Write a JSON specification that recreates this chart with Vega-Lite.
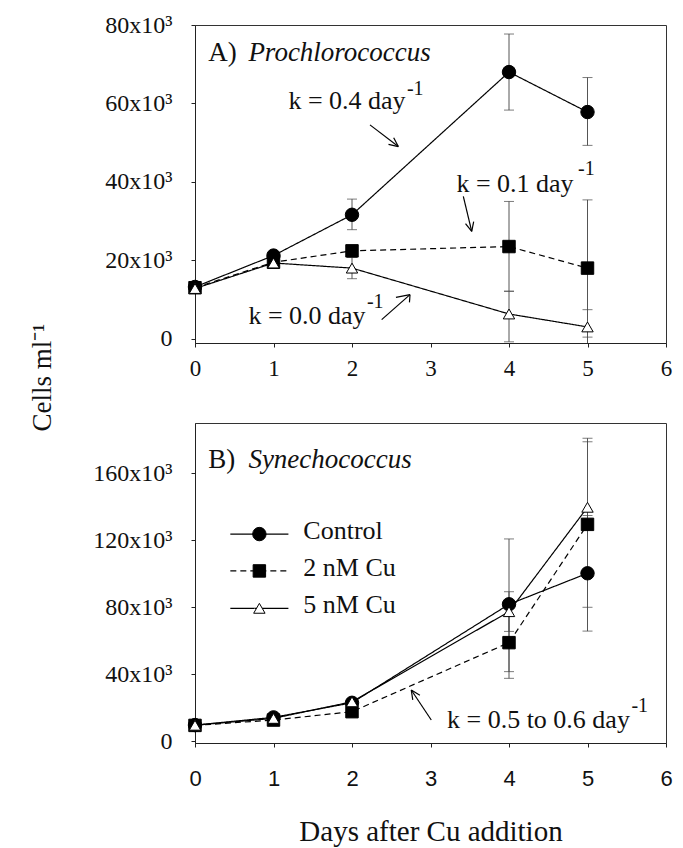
{
  "$schema": "https://vega.github.io/schema/vega-lite/v6.json",
  "autosize": {"type": "pad"},
  "padding": {"left": 27, "top": 12, "right": 11, "bottom": 0},
  "background": "white",
  "bounds": "flush",
  "spacing": 80,
  "config": {
    "view": {"stroke": "#333", "strokeWidth": 1},
    "axis": {"grid": false, "domainColor": "#222", "tickColor": "#222", "labelColor": "#111", "titleColor": "#111", "labelFont": "Liberation Serif", "labelFontSize": 22, "titleFont": "Liberation Serif", "titleFontWeight": "normal", "titleFontSize": 27, "tickSize": 4, "labelFlush": false, "labelOverlap": false},
    "text": {"font": "Liberation Serif", "color": "#111"}
  },
  "datasets": {
    "pts": [
      {"panel": "A", "series": "Control", "day": 0, "cells": 13200},
      {"panel": "A", "series": "Control", "day": 1, "cells": 21200},
      {"panel": "A", "series": "Control", "day": 2, "cells": 31600},
      {"panel": "A", "series": "Control", "day": 4, "cells": 68000},
      {"panel": "A", "series": "Control", "day": 5, "cells": 57800},
      {"panel": "A", "series": "2 nM Cu", "day": 0, "cells": 13000},
      {"panel": "A", "series": "2 nM Cu", "day": 1, "cells": 19500},
      {"panel": "A", "series": "2 nM Cu", "day": 2, "cells": 22400},
      {"panel": "A", "series": "2 nM Cu", "day": 4, "cells": 23500},
      {"panel": "A", "series": "2 nM Cu", "day": 5, "cells": 18000},
      {"panel": "A", "series": "5 nM Cu", "day": 0, "cells": 12800},
      {"panel": "A", "series": "5 nM Cu", "day": 1, "cells": 19300},
      {"panel": "A", "series": "5 nM Cu", "day": 2, "cells": 18000},
      {"panel": "A", "series": "5 nM Cu", "day": 4, "cells": 6300},
      {"panel": "A", "series": "5 nM Cu", "day": 5, "cells": 3000},
      {"panel": "B", "series": "Control", "day": 0, "cells": 9700},
      {"panel": "B", "series": "Control", "day": 1, "cells": 14300},
      {"panel": "B", "series": "Control", "day": 2, "cells": 23000},
      {"panel": "B", "series": "Control", "day": 4, "cells": 81800},
      {"panel": "B", "series": "Control", "day": 5, "cells": 100300},
      {"panel": "B", "series": "2 nM Cu", "day": 0, "cells": 9500},
      {"panel": "B", "series": "2 nM Cu", "day": 1, "cells": 12700},
      {"panel": "B", "series": "2 nM Cu", "day": 2, "cells": 17700},
      {"panel": "B", "series": "2 nM Cu", "day": 4, "cells": 58900},
      {"panel": "B", "series": "2 nM Cu", "day": 5, "cells": 129500},
      {"panel": "B", "series": "5 nM Cu", "day": 0, "cells": 9600},
      {"panel": "B", "series": "5 nM Cu", "day": 1, "cells": 13700},
      {"panel": "B", "series": "5 nM Cu", "day": 2, "cells": 23600},
      {"panel": "B", "series": "5 nM Cu", "day": 4, "cells": 77400},
      {"panel": "B", "series": "5 nM Cu", "day": 5, "cells": 139700}
    ],
    "errs": [
      {"panel": "A", "series": "Control", "day": 2, "lo": 27800, "hi": 35600},
      {"panel": "A", "series": "Control", "day": 4, "lo": 58300, "hi": 77700},
      {"panel": "A", "series": "Control", "day": 5, "lo": 49300, "hi": 66600},
      {"panel": "A", "series": "2 nM Cu", "day": 4, "lo": 12100, "hi": 35000},
      {"panel": "A", "series": "2 nM Cu", "day": 5, "lo": 400, "hi": 35400},
      {"panel": "A", "series": "5 nM Cu", "day": 2, "lo": 15300, "hi": 20700},
      {"panel": "A", "series": "5 nM Cu", "day": 4, "lo": -800, "hi": 12100},
      {"panel": "A", "series": "5 nM Cu", "day": 5, "lo": -1500, "hi": 7400},
      {"panel": "B", "series": "Control", "day": 4, "lo": 41600, "hi": 120800},
      {"panel": "B", "series": "Control", "day": 5, "lo": 65800, "hi": 134800},
      {"panel": "B", "series": "2 nM Cu", "day": 4, "lo": 37600, "hi": 80100},
      {"panel": "B", "series": "2 nM Cu", "day": 5, "lo": 80000, "hi": 178800},
      {"panel": "B", "series": "5 nM Cu", "day": 4, "lo": 65600, "hi": 89300},
      {"panel": "B", "series": "5 nM Cu", "day": 5, "lo": 98500, "hi": 180900}
    ],
    "notes": [
      {"panel": "A", "day": 1.19, "cells": 58500, "text": "k = 0.4 day"},
      {"panel": "A", "day": 3.33, "cells": 37500, "text": "k = 0.1 day"},
      {"panel": "A", "day": 0.68, "cells": 3850, "text": "k = 0.0 day"},
      {"panel": "B", "day": 3.21, "cells": 7800, "text": "k = 0.5 to 0.6 day"}
    ],
    "sups": [
      {"panel": "A", "day": 2.70, "cells": 62200, "text": "-1"},
      {"panel": "A", "day": 4.88, "cells": 41800, "text": "-1"},
      {"panel": "A", "day": 2.19, "cells": 7850, "text": "-1"},
      {"panel": "B", "day": 5.56, "cells": 17700, "text": "-1"}
    ],
    "tags": [
      {"panel": "A", "day": 0.17, "cells": 70800, "text": "A)"},
      {"panel": "B", "day": 0.17, "cells": 163000, "text": "B)"}
    ],
    "taxa": [
      {"panel": "A", "day": 0.68, "cells": 70800, "text": "Prochlorococcus"},
      {"panel": "B", "day": 0.68, "cells": 163000, "text": "Synechococcus"}
    ],
    "arrows": [
      {"panel": "A", "day": 2.229, "cells": 54530, "day2": 2.590, "cells2": 49002},
      {"panel": "A", "day": 2.531, "cells": 51270, "day2": 2.590, "cells2": 49002},
      {"panel": "A", "day": 2.465, "cells": 49563, "day2": 2.590, "cells2": 49002},
      {"panel": "A", "day": 3.418, "cells": 36268, "day2": 3.525, "cells2": 27354},
      {"panel": "A", "day": 3.550, "cells": 29848, "day2": 3.525, "cells2": 27354},
      {"panel": "A", "day": 3.446, "cells": 29339, "day2": 3.525, "cells2": 27354},
      {"panel": "A", "day": 2.378, "cells": 4864, "day2": 2.739, "cells2": 11231},
      {"panel": "A", "day": 2.560, "cells": 10516, "day2": 2.739, "cells2": 11231},
      {"panel": "A", "day": 2.732, "cells": 9256, "day2": 2.739, "cells2": 11231},
      {"panel": "B", "day": 3.010, "cells": 12721, "day2": 2.755, "cells2": 30628},
      {"panel": "B", "day": 2.774, "cells": 24719, "day2": 2.755, "cells2": 30628},
      {"panel": "B", "day": 2.865, "cells": 27524, "day2": 2.755, "cells2": 30628}
    ],
    "key": [
      {"series": "Control", "day": 0.45, "day2": 1.19, "cells": 123700, "markDay": 0.82, "labelDay": 1.38, "labelCells": 120600, "label": "Control"},
      {"series": "2 nM Cu", "day": 0.45, "day2": 1.19, "cells": 101700, "markDay": 0.82, "labelDay": 1.38, "labelCells": 98700, "label": "2 nM Cu"},
      {"series": "5 nM Cu", "day": 0.45, "day2": 1.19, "cells": 79400, "markDay": 0.82, "labelDay": 1.38, "labelCells": 76400, "label": "5 nM Cu"}
    ]
  },
  "vconcat": [
    {
      "width": 471,
      "height": 318,
      "layer": [
        {
          "data": {"name": "pts"},
          "transform": [{"filter": "datum.panel == 'A'"}],
          "mark": {"type": "line", "color": "#000", "strokeWidth": 1.2},
          "encoding": {
            "x": {"field": "day", "type": "quantitative", "scale": {"domain": [0, 6], "nice": false, "zero": false},
                  "axis": {"values": [0, 1, 2, 3, 4, 5, 6], "format": "d", "title": null, "labelFont": "Liberation Serif", "labelFontSize": 23, "labelPadding": 10}},
            "y": {"field": "cells", "type": "quantitative", "scale": {"domain": [-1100, 80000], "nice": false, "zero": false},
                  "axis": {"values": [0, 20000, 40000, 60000, 80000], "title": null, "labelFontSize": 24, "labelPadding": 19, "labelExpr": "datum.value == 0 ? '0' : format(datum.value / 1000, 'd') + 'x10\u00b3'"}},
            "detail": {"field": "series", "type": "nominal"},
            "strokeDash": {"field": "series", "type": "nominal", "scale": {"domain": ["Control", "2 nM Cu", "5 nM Cu"], "range": [[1, 0], [6, 4], [1, 0]]}, "legend": null}
          }
        },
        {
          "data": {"name": "errs"},
          "transform": [{"filter": "datum.panel == 'A'"}],
          "mark": {"type": "rule", "color": "#555", "strokeWidth": 1, "clip": true},
          "encoding": {
            "x": {"field": "day", "type": "quantitative", "scale": {"domain": [0, 6], "nice": false, "zero": false}},
            "y": {"field": "lo", "type": "quantitative", "scale": {"domain": [-1100, 80000], "nice": false, "zero": false}},
            "y2": {"field": "hi"}
          }
        },
        {
          "data": {"name": "errs"},
          "transform": [{"filter": "datum.panel == 'A'"}],
          "mark": {"type": "tick", "orient": "horizontal", "size": 10, "thickness": 1, "color": "#444", "clip": true},
          "encoding": {
            "x": {"field": "day", "type": "quantitative", "scale": {"domain": [0, 6], "nice": false, "zero": false}},
            "y": {"field": "lo", "type": "quantitative", "scale": {"domain": [-1100, 80000], "nice": false, "zero": false}}
          }
        },
        {
          "data": {"name": "errs"},
          "transform": [{"filter": "datum.panel == 'A'"}],
          "mark": {"type": "tick", "orient": "horizontal", "size": 10, "thickness": 1, "color": "#444", "clip": true},
          "encoding": {
            "x": {"field": "day", "type": "quantitative", "scale": {"domain": [0, 6], "nice": false, "zero": false}},
            "y": {"field": "hi", "type": "quantitative", "scale": {"domain": [-1100, 80000], "nice": false, "zero": false}}
          }
        },
        {
          "data": {"name": "pts"},
          "transform": [{"filter": "datum.panel == 'A'"}],
          "mark": {"type": "point", "filled": true, "opacity": 1, "strokeWidth": 1},
          "encoding": {
            "x": {"field": "day", "type": "quantitative", "scale": {"domain": [0, 6], "nice": false, "zero": false}},
            "y": {"field": "cells", "type": "quantitative", "scale": {"domain": [-1100, 80000], "nice": false, "zero": false}},
            "shape": {"field": "series", "type": "nominal", "scale": {"domain": ["Control", "2 nM Cu", "5 nM Cu"], "range": ["circle", "square", "triangle-up"]}, "legend": null},
            "fill": {"field": "series", "type": "nominal", "scale": {"domain": ["Control", "2 nM Cu", "5 nM Cu"], "range": ["#000", "#000", "#fff"]}, "legend": null},
            "size": {"field": "series", "type": "nominal", "scale": {"domain": ["Control", "2 nM Cu", "5 nM Cu"], "range": [180, 130, 150]}, "legend": null},
            "stroke": {"value": "#000"}
          }
        },
        {
          "data": {"name": "arrows"},
          "transform": [{"filter": "datum.panel == 'A'"}],
          "mark": {"type": "rule", "color": "#000", "strokeWidth": 1.2},
          "encoding": {
            "x": {"field": "day", "type": "quantitative", "scale": {"domain": [0, 6], "nice": false, "zero": false}},
            "y": {"field": "cells", "type": "quantitative", "scale": {"domain": [-1100, 80000], "nice": false, "zero": false}},
            "x2": {"field": "day2"},
            "y2": {"field": "cells2"}
          }
        },
        {
          "data": {"name": "notes"},
          "transform": [{"filter": "datum.panel == 'A'"}],
          "mark": {"type": "text", "align": "left", "baseline": "alphabetic", "fontSize": 26, "font": "Liberation Serif"},
          "encoding": {
            "x": {"field": "day", "type": "quantitative", "scale": {"domain": [0, 6], "nice": false, "zero": false}},
            "y": {"field": "cells", "type": "quantitative", "scale": {"domain": [-1100, 80000], "nice": false, "zero": false}},
            "text": {"field": "text"}
          }
        },
        {
          "data": {"name": "sups"},
          "transform": [{"filter": "datum.panel == 'A'"}],
          "mark": {"type": "text", "align": "left", "baseline": "alphabetic", "fontSize": 20, "font": "Liberation Serif"},
          "encoding": {
            "x": {"field": "day", "type": "quantitative", "scale": {"domain": [0, 6], "nice": false, "zero": false}},
            "y": {"field": "cells", "type": "quantitative", "scale": {"domain": [-1100, 80000], "nice": false, "zero": false}},
            "text": {"field": "text"}
          }
        },
        {
          "data": {"name": "tags"},
          "transform": [{"filter": "datum.panel == 'A'"}],
          "mark": {"type": "text", "align": "left", "baseline": "alphabetic", "fontSize": 27, "font": "Liberation Serif"},
          "encoding": {
            "x": {"field": "day", "type": "quantitative", "scale": {"domain": [0, 6], "nice": false, "zero": false}},
            "y": {"field": "cells", "type": "quantitative", "scale": {"domain": [-1100, 80000], "nice": false, "zero": false}},
            "text": {"field": "text"}
          }
        },
        {
          "data": {"name": "taxa"},
          "transform": [{"filter": "datum.panel == 'A'"}],
          "mark": {"type": "text", "align": "left", "baseline": "alphabetic", "fontSize": 27, "fontStyle": "italic", "font": "Liberation Serif"},
          "encoding": {
            "x": {"field": "day", "type": "quantitative", "scale": {"domain": [0, 6], "nice": false, "zero": false}},
            "y": {"field": "cells", "type": "quantitative", "scale": {"domain": [-1100, 80000], "nice": false, "zero": false}},
            "text": {"field": "text"}
          }
        }
      ]
    },
    {
      "width": 471,
      "height": 320,
      "layer": [
        {
          "data": {"name": "pts"},
          "transform": [{"filter": "datum.panel == 'B'"}],
          "mark": {"type": "line", "color": "#000", "strokeWidth": 1.2},
          "encoding": {
            "x": {"field": "day", "type": "quantitative", "scale": {"domain": [0, 6], "nice": false, "zero": false},
                  "axis": {"values": [0, 1, 2, 3, 4, 5, 6], "format": "d", "title": "Days after Cu addition", "labelFont": "Liberation Sans", "labelFontSize": 22, "labelPadding": 21, "titleY": 97, "titleBaseline": "alphabetic", "titleFontSize": 29}},
            "y": {"field": "cells", "type": "quantitative", "scale": {"domain": [-1000, 190000], "nice": false, "zero": false},
                  "axis": {"values": [0, 40000, 80000, 120000, 160000], "title": "Cells ml\u207b\u00b9", "titleX": -145, "titleY": -46, "titleAngle": 270, "titleAlign": "center", "titleBaseline": "alphabetic", "titleFontSize": 27, "labelFontSize": 24, "labelPadding": 19, "labelExpr": "datum.value == 0 ? '0' : format(datum.value / 1000, 'd') + 'x10\u00b3'"}},
            "detail": {"field": "series", "type": "nominal"},
            "strokeDash": {"field": "series", "type": "nominal", "scale": {"domain": ["Control", "2 nM Cu", "5 nM Cu"], "range": [[1, 0], [6, 4], [1, 0]]}, "legend": null}
          }
        },
        {
          "data": {"name": "errs"},
          "transform": [{"filter": "datum.panel == 'B'"}],
          "mark": {"type": "rule", "color": "#555", "strokeWidth": 1, "clip": true},
          "encoding": {
            "x": {"field": "day", "type": "quantitative", "scale": {"domain": [0, 6], "nice": false, "zero": false}},
            "y": {"field": "lo", "type": "quantitative", "scale": {"domain": [-1000, 190000], "nice": false, "zero": false}},
            "y2": {"field": "hi"}
          }
        },
        {
          "data": {"name": "errs"},
          "transform": [{"filter": "datum.panel == 'B'"}],
          "mark": {"type": "tick", "orient": "horizontal", "size": 10, "thickness": 1, "color": "#444", "clip": true},
          "encoding": {
            "x": {"field": "day", "type": "quantitative", "scale": {"domain": [0, 6], "nice": false, "zero": false}},
            "y": {"field": "lo", "type": "quantitative", "scale": {"domain": [-1000, 190000], "nice": false, "zero": false}}
          }
        },
        {
          "data": {"name": "errs"},
          "transform": [{"filter": "datum.panel == 'B'"}],
          "mark": {"type": "tick", "orient": "horizontal", "size": 10, "thickness": 1, "color": "#444", "clip": true},
          "encoding": {
            "x": {"field": "day", "type": "quantitative", "scale": {"domain": [0, 6], "nice": false, "zero": false}},
            "y": {"field": "hi", "type": "quantitative", "scale": {"domain": [-1000, 190000], "nice": false, "zero": false}}
          }
        },
        {
          "data": {"name": "pts"},
          "transform": [{"filter": "datum.panel == 'B'"}],
          "mark": {"type": "point", "filled": true, "opacity": 1, "strokeWidth": 1},
          "encoding": {
            "x": {"field": "day", "type": "quantitative", "scale": {"domain": [0, 6], "nice": false, "zero": false}},
            "y": {"field": "cells", "type": "quantitative", "scale": {"domain": [-1000, 190000], "nice": false, "zero": false}},
            "shape": {"field": "series", "type": "nominal", "scale": {"domain": ["Control", "2 nM Cu", "5 nM Cu"], "range": ["circle", "square", "triangle-up"]}, "legend": null},
            "fill": {"field": "series", "type": "nominal", "scale": {"domain": ["Control", "2 nM Cu", "5 nM Cu"], "range": ["#000", "#000", "#fff"]}, "legend": null},
            "size": {"field": "series", "type": "nominal", "scale": {"domain": ["Control", "2 nM Cu", "5 nM Cu"], "range": [170, 120, 150]}, "legend": null},
            "stroke": {"value": "#000"}
          }
        },
        {
          "data": {"name": "arrows"},
          "transform": [{"filter": "datum.panel == 'B'"}],
          "mark": {"type": "rule", "color": "#000", "strokeWidth": 1.2},
          "encoding": {
            "x": {"field": "day", "type": "quantitative", "scale": {"domain": [0, 6], "nice": false, "zero": false}},
            "y": {"field": "cells", "type": "quantitative", "scale": {"domain": [-1000, 190000], "nice": false, "zero": false}},
            "x2": {"field": "day2"},
            "y2": {"field": "cells2"}
          }
        },
        {
          "data": {"name": "key"},
          "mark": {"type": "rule", "color": "#000", "strokeWidth": 1.2},
          "encoding": {
            "x": {"field": "day", "type": "quantitative", "scale": {"domain": [0, 6], "nice": false, "zero": false}},
            "x2": {"field": "day2"},
            "y": {"field": "cells", "type": "quantitative", "scale": {"domain": [-1000, 190000], "nice": false, "zero": false}},
            "strokeDash": {"field": "series", "type": "nominal", "scale": {"domain": ["Control", "2 nM Cu", "5 nM Cu"], "range": [[1, 0], [6, 4], [1, 0]]}, "legend": null}
          }
        },
        {
          "data": {"name": "key"},
          "mark": {"type": "point", "filled": true, "opacity": 1, "strokeWidth": 1},
          "encoding": {
            "x": {"field": "markDay", "type": "quantitative", "scale": {"domain": [0, 6], "nice": false, "zero": false}},
            "y": {"field": "cells", "type": "quantitative", "scale": {"domain": [-1000, 190000], "nice": false, "zero": false}},
            "shape": {"field": "series", "type": "nominal", "scale": {"domain": ["Control", "2 nM Cu", "5 nM Cu"], "range": ["circle", "square", "triangle-up"]}, "legend": null},
            "fill": {"field": "series", "type": "nominal", "scale": {"domain": ["Control", "2 nM Cu", "5 nM Cu"], "range": ["#000", "#000", "#fff"]}, "legend": null},
            "size": {"field": "series", "type": "nominal", "scale": {"domain": ["Control", "2 nM Cu", "5 nM Cu"], "range": [170, 120, 150]}, "legend": null},
            "stroke": {"value": "#000"}
          }
        },
        {
          "data": {"name": "key"},
          "mark": {"type": "text", "align": "left", "baseline": "alphabetic", "fontSize": 26, "font": "Liberation Serif"},
          "encoding": {
            "x": {"field": "labelDay", "type": "quantitative", "scale": {"domain": [0, 6], "nice": false, "zero": false}},
            "y": {"field": "labelCells", "type": "quantitative", "scale": {"domain": [-1000, 190000], "nice": false, "zero": false}},
            "text": {"field": "label"}
          }
        },
        {
          "data": {"name": "notes"},
          "transform": [{"filter": "datum.panel == 'B'"}],
          "mark": {"type": "text", "align": "left", "baseline": "alphabetic", "fontSize": 26, "font": "Liberation Serif"},
          "encoding": {
            "x": {"field": "day", "type": "quantitative", "scale": {"domain": [0, 6], "nice": false, "zero": false}},
            "y": {"field": "cells", "type": "quantitative", "scale": {"domain": [-1000, 190000], "nice": false, "zero": false}},
            "text": {"field": "text"}
          }
        },
        {
          "data": {"name": "sups"},
          "transform": [{"filter": "datum.panel == 'B'"}],
          "mark": {"type": "text", "align": "left", "baseline": "alphabetic", "fontSize": 20, "font": "Liberation Serif"},
          "encoding": {
            "x": {"field": "day", "type": "quantitative", "scale": {"domain": [0, 6], "nice": false, "zero": false}},
            "y": {"field": "cells", "type": "quantitative", "scale": {"domain": [-1000, 190000], "nice": false, "zero": false}},
            "text": {"field": "text"}
          }
        },
        {
          "data": {"name": "tags"},
          "transform": [{"filter": "datum.panel == 'B'"}],
          "mark": {"type": "text", "align": "left", "baseline": "alphabetic", "fontSize": 27, "font": "Liberation Serif"},
          "encoding": {
            "x": {"field": "day", "type": "quantitative", "scale": {"domain": [0, 6], "nice": false, "zero": false}},
            "y": {"field": "cells", "type": "quantitative", "scale": {"domain": [-1000, 190000], "nice": false, "zero": false}},
            "text": {"field": "text"}
          }
        },
        {
          "data": {"name": "taxa"},
          "transform": [{"filter": "datum.panel == 'B'"}],
          "mark": {"type": "text", "align": "left", "baseline": "alphabetic", "fontSize": 27, "fontStyle": "italic", "font": "Liberation Serif"},
          "encoding": {
            "x": {"field": "day", "type": "quantitative", "scale": {"domain": [0, 6], "nice": false, "zero": false}},
            "y": {"field": "cells", "type": "quantitative", "scale": {"domain": [-1000, 190000], "nice": false, "zero": false}},
            "text": {"field": "text"}
          }
        }
      ]
    }
  ]
}
